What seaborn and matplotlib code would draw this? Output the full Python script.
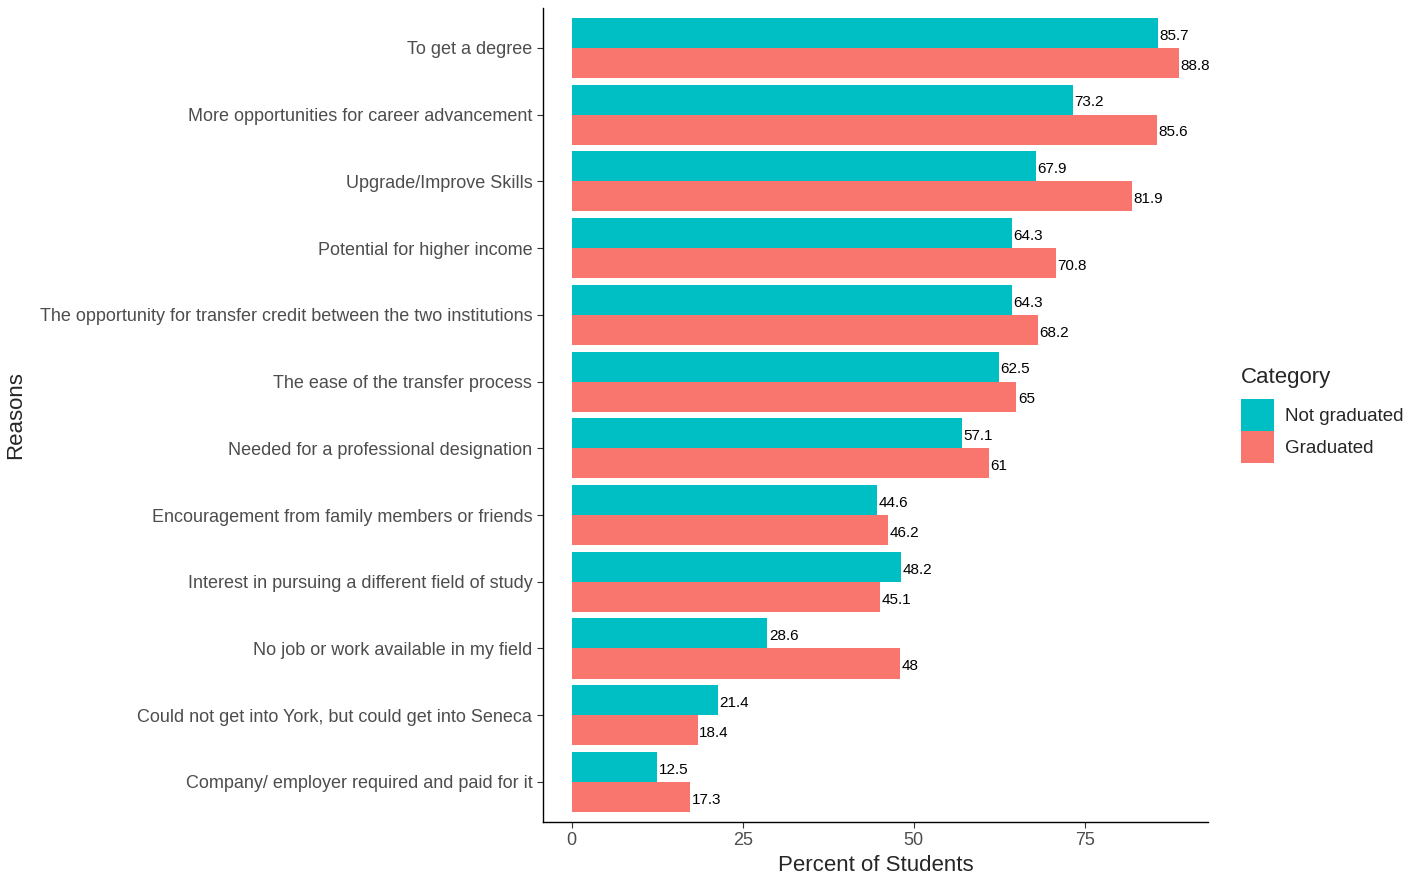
import pandas as pd
import seaborn as sns
import matplotlib.pyplot as plt

# values
reasons = [
    "To get a degree",
    "More opportunities for career advancement",
    "Upgrade/Improve Skills",
    "Potential for higher income",
    "The opportunity for transfer credit between the two institutions",
    "The ease of the transfer process",
    "Needed for a professional designation",
    "Encouragement from family members or friends",
    "Interest in pursuing a different field of study",
    "No job or work available in my field",
    "Could not get into York, but could get into Seneca",
    "Company/ employer required and paid for it",
]
not_graduated = [85.7, 73.2, 67.9, 64.3, 64.3, 62.5, 57.1, 44.6, 48.2, 28.6, 21.4, 12.5]
graduated = [88.8, 85.6, 81.9, 70.8, 68.2, 65, 61, 46.2, 45.1, 48, 18.4, 17.3]
categories = ["Not graduated", "Graduated"]
colors = ["#00BFC4", "#F8766D"]

df = pd.DataFrame({
    "Reasons": reasons * 2,
    "Percent": not_graduated + graduated,
    "Category": [categories[0]] * len(reasons) + [categories[1]] * len(reasons),
})

sns.set_style("white")
plt.rcParams['font.family'] = ['Liberation Sans', 'DejaVu Sans']

fig = plt.figure(figsize=(14.17, 8.81), dpi=100)
ax = fig.add_axes([0.383, 0.067, 0.4695, 0.924])

sns.barplot(data=df, x="Percent", y="Reasons", hue="Category", order=reasons,
            hue_order=categories, palette=colors, width=0.9, saturation=1,
            orient="h", ax=ax, errorbar=None, linewidth=0)

# value labels just right of each bar, nudged a little down like the original
for cont in ax.containers:
    for t in ax.bar_label(cont, fmt="{:g}", padding=1, fontsize=11, color="black"):
        t.xyann = (1, -2)

ax.set_xlim(-4.24, 93.0)
ax.set_ylim(len(reasons) - 0.4, -0.6)
ax.set_xticks([0, 25, 50, 75])
ax.tick_params(axis="both", length=4, width=0.8, color="#333333",
               labelsize=13, labelcolor="#4D4D4D", left=True, bottom=True)
for s in ["top", "right"]:
    ax.spines[s].set_visible(False)
for s in ["left", "bottom"]:
    ax.spines[s].set_color("black")
    ax.spines[s].set_linewidth(1)

ax.set_xlabel("Percent of Students", fontsize=16, labelpad=4)
ax.set_ylabel("Reasons", fontsize=16, labelpad=10)

leg = ax.legend(title="Category", loc="center left", bbox_to_anchor=(1.024, 0.5),
                frameon=False, fontsize=13.5, title_fontsize=16, handlelength=1.75,
                handleheight=2.2, labelspacing=0.05, handletextpad=0.6,
                alignment="left")
leg._legend_box.sep = 8

fig.savefig("out.png", dpi=100)
